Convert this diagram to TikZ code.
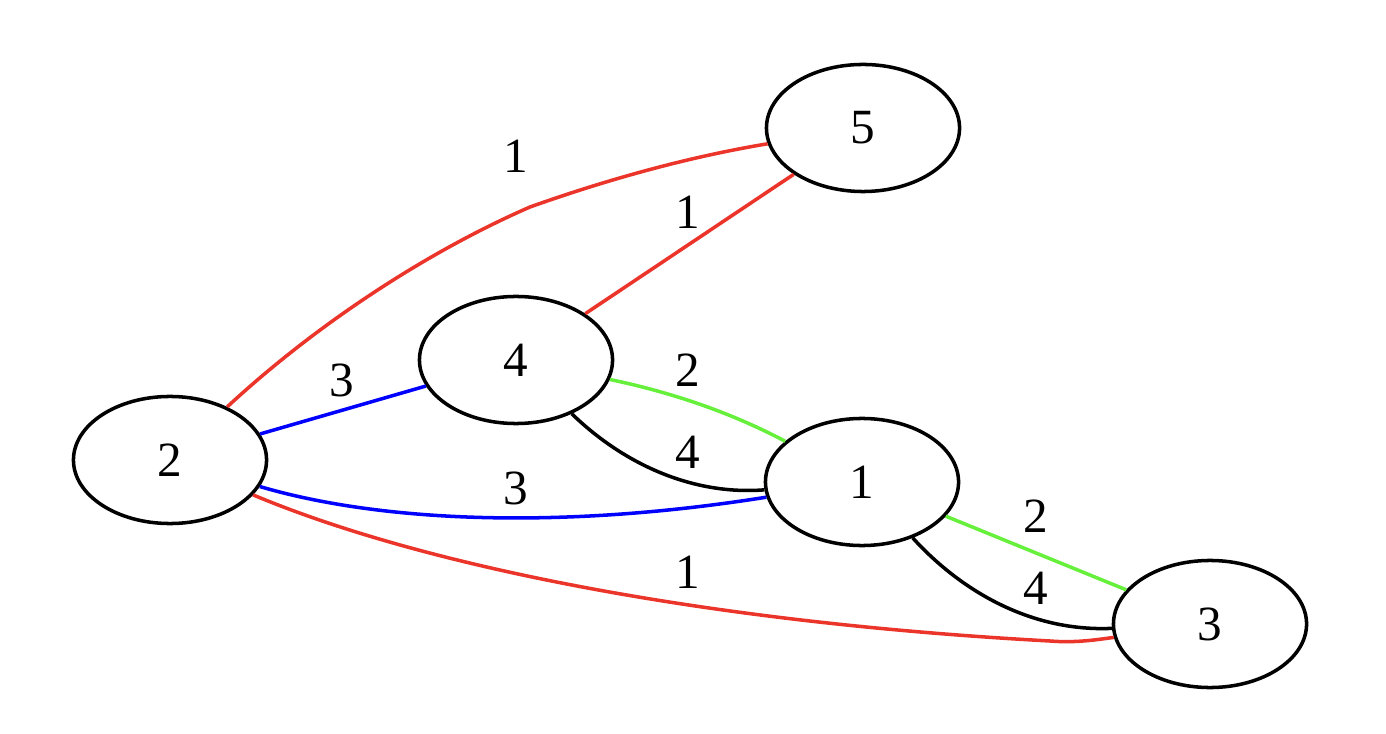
\documentclass[tikz,border=0pt]{standalone}
\usepackage{fontspec}
\setmainfont{Liberation Serif}
\usetikzlibrary{shapes.geometric}
\definecolor{ered}{RGB}{235,52,42}
\definecolor{egreen}{RGB}{102,240,60}
\definecolor{eblue}{RGB}{0,0,255}
\tikzset{
  vert/.style={ellipse, draw=black, line width=1pt, inner sep=0pt, minimum width=1.93cm, minimum height=1.27cm, font=\fontsize{14}{16}\selectfont},
  elab/.style={inner sep=1pt, font=\fontsize{14}{16}\selectfont},
  edge/.style={line width=1pt},
}
\begin{document}
\begin{tikzpicture}[x=0.01cm,y=-0.01cm]
\useasboundingbox (0,0) rectangle (1386,734);
\node[vert] (n5) at (863,128) {5};
\node[vert] (n4) at (516,360) {4};
\node[vert] (n2) at (170,460) {2};
\node[vert] (n1) at (862,482) {1};
\node[vert] (n3) at (1210,624) {3};
\coordinate (k25) at (530,207);
\coordinate (k23) at (1050,641);
% edges
\draw[edge, ered] (n2) .. controls (310,330) and (420,255) .. (k25) .. controls (620,175) and (700,155) .. (n5);
\draw[edge, ered] (n4) -- (n5);
\draw[edge, eblue] (n2) -- (n4);
\draw[edge, egreen] (n4) .. controls (670,392) and (730,412) .. (n1);
\draw[edge, black] (n4) .. controls (630,470) and (700,495) .. (n1);
\draw[edge, eblue] (n2) .. controls (380,522) and (560,530) .. (n1);
\draw[edge, ered] (n2) .. controls (420,565) and (700,622) .. (k23) .. controls (1075,643) and (1095,640) .. (n3);
\draw[edge, egreen] (n1) -- (n3);
\draw[edge, black] (n1) .. controls (960,590) and (1030,632) .. (n3);
% labels
\node[elab] (l25) at (516,156) {1};
\node[elab] (l45) at (688,212) {1};
\node[elab] (l24) at (342,380) {3};
\node[elab] (l41g) at (688,370) {2};
\node[elab] (l41k) at (688,452) {4};
\node[elab] (l21) at (516,488) {3};
\node[elab] (l23) at (688,572) {1};
\node[elab] (l13g) at (1036,516) {2};
\node[elab] (l13k) at (1036,588) {4};
\end{tikzpicture}
\end{document}
